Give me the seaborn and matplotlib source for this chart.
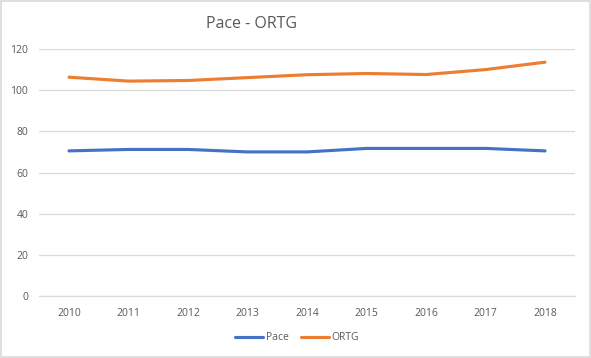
import matplotlib
matplotlib.use("Agg")
import matplotlib.pyplot as plt
import seaborn as sns
import pandas as pd
from matplotlib.patches import Rectangle

years = ["2010", "2011", "2012", "2013", "2014", "2015", "2016", "2017", "2018"]
pace = [70.5, 71.2, 71.2, 70.0, 70.0, 71.7, 71.7, 71.7, 70.5]
ortg = [106.3, 104.4, 104.7, 106.1, 107.5, 108.1, 107.6, 110.0, 113.6]
series_names = ["Pace", "ORTG"]
yticks = [0, 20, 40, 60, 80, 100, 120]
title = "Pace - ORTG"

df = pd.DataFrame({
    "year": years * 2,
    "value": pace + ortg,
    "series": [series_names[0]] * len(years) + [series_names[1]] * len(years),
})

sns.set_theme(style="white")
plt.rcParams["font.family"] = ["Open Sans", "DejaVu Sans"]

fig = plt.figure(figsize=(5.91, 3.58), dpi=100)
ax = fig.add_axes([39.25 / 591, 1 - 296 / 358, (574.75 - 39.25) / 591, (296 - 49) / 358])

palette = {"Pace": "#4472C4", "ORTG": "#ED7D31"}
sns.lineplot(data=df, x="year", y="value", hue="series", palette=palette,
             linewidth=2.25, ax=ax, sort=False, legend=True)

ax.set_xlim(-0.5, len(years) - 0.5)
ax.set_ylim(0, 120)
ax.set_yticks(yticks)
ax.set_yticklabels([str(t) for t in yticks])
ax.set_xlabel("")
ax.set_ylabel("")
ax.grid(axis="y", color="#D9D9D9", linewidth=0.9)
ax.grid(axis="x", visible=False)
ax.set_axisbelow(True)
for s in ["top", "right", "left"]:
    ax.spines[s].set_visible(False)
ax.spines["bottom"].set_color("#D9D9D9")
ax.spines["bottom"].set_linewidth(0.9)
ax.tick_params(axis="both", length=0, labelsize=7.5, colors="#595959")
ax.tick_params(axis="x", pad=9)
ax.tick_params(axis="y", pad=8)

handles, labels = ax.get_legend_handles_labels()
ax.get_legend().remove()
fig.legend(handles, labels, loc="center", bbox_to_anchor=(297 / 591, 1 - 338 / 358),
           ncol=2, frameon=False, fontsize=7.5, labelcolor="#595959",
           handlelength=2.7, handletextpad=0.2, columnspacing=1.2)

fig.text(251 / 591, 1 - 24 / 358, title, ha="center", va="center",
         fontsize=11.5, color="#595959")

fig.patches.append(Rectangle((0.001, 0.002), 0.997, 0.995, transform=fig.transFigure,
                             fill=False, edgecolor="#D9D9D9", linewidth=1.2))

fig.savefig("out.png", dpi=100, facecolor="white")
